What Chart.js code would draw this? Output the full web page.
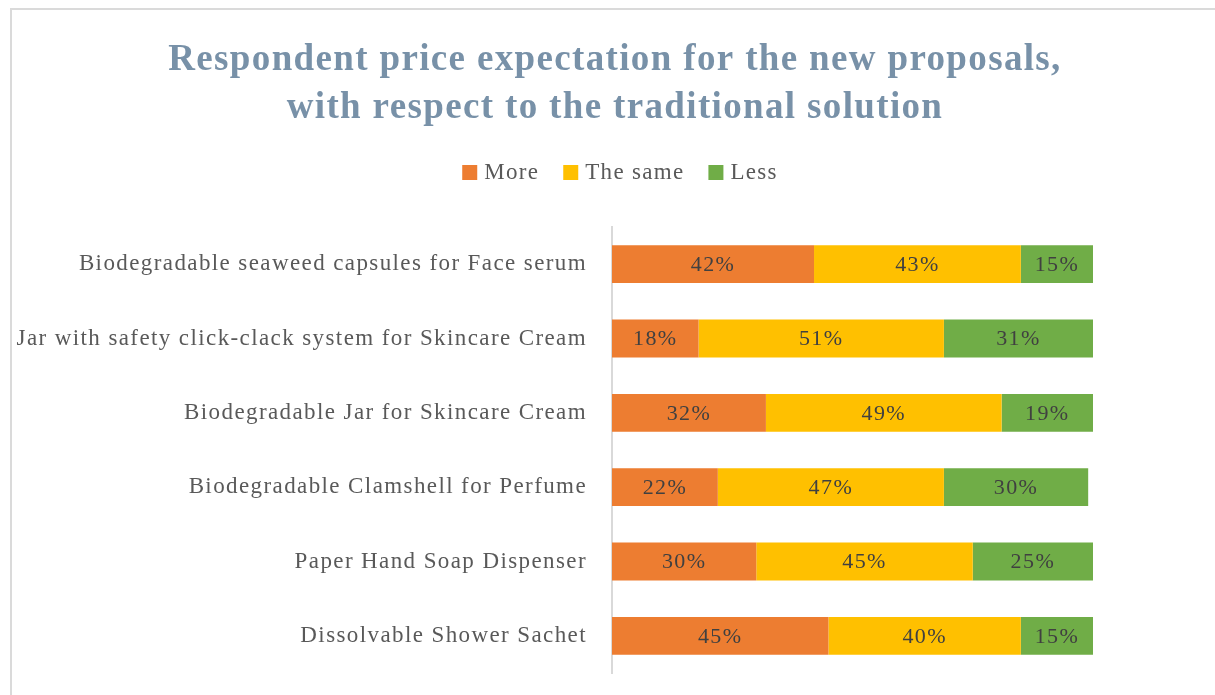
<!DOCTYPE html>
<html>
<head>
<meta charset="utf-8">
<script src="https://cdn.jsdelivr.net/npm/chart.js@4"></script>
<style>
  html, body { margin: 0; padding: 0; background: #fff; overflow: hidden; }
  #wrap { position: relative; width: 1215px; height: 695px; }
  #frame { position: absolute; left: 10px; top: 8px; width: 1400px; height: 900px; border: 2px solid #dadada; box-sizing: border-box; }
  canvas { position: absolute; left: 0; top: 0; }
</style>
</head>
<body>
<div id="wrap">
  <div id="frame"></div>
  <canvas id="priceChart" width="1215" height="695"></canvas>
</div>
<script>
const titleLines = ['Respondent price expectation for the new proposals,', 'with respect to the traditional solution'];
const products = [
  'Biodegradable seaweed capsules for Face serum',
  'Jar with safety click-clack system for Skincare Cream',
  'Biodegradable Jar for Skincare Cream',
  'Biodegradable Clamshell for Perfume',
  'Paper Hand Soap Dispenser',
  'Dissolvable Shower Sachet'
];
const more = [42, 18, 32, 22, 30, 45];
const same = [43, 51, 49, 47, 45, 40];
const less = [15, 31, 19, 30, 25, 15];

const serif = '"Liberation Serif", "DejaVu Serif", serif';

// writes the percentage in the middle of every bar segment
const segmentLabels = {
  id: 'segmentLabels',
  afterDatasetsDraw(chart) {
    const ctx = chart.ctx;
    ctx.save();
    ctx.font = '22px ' + serif;
    ctx.fillStyle = '#404040';
    ctx.textAlign = 'center';
    ctx.textBaseline = 'middle';
    chart.data.datasets.forEach((ds, i) => {
      chart.getDatasetMeta(i).data.forEach((bar, j) => {
        const p = bar.getCenterPoint();
        ctx.fillText(ds.data[j] + '%', p.x, p.y + 1);
      });
    });
    ctx.restore();
  }
};

// wider letter spacing for all text, plus the two-line title and the legend row
const header = {
  id: 'header',
  beforeDraw(chart) {
    chart.ctx.letterSpacing = '1.4px';
  },
  afterDraw(chart) {
    const ctx = chart.ctx;
    ctx.save();
    ctx.letterSpacing = '1.35px';
    ctx.font = 'bold 37px ' + serif;
    ctx.fillStyle = '#7891A8';
    ctx.textAlign = 'center';
    ctx.textBaseline = 'middle';
    titleLines.forEach((t, i) => ctx.fillText(t, 615, 60 + i * 48));

    ctx.letterSpacing = '1.3px';
    ctx.font = '23px ' + serif;
    ctx.textAlign = 'left';
    const box = 15, gap = 7, spacing = 24;
    const items = chart.data.datasets.map(ds => ({
      text: ds.label,
      color: ds.backgroundColor,
      w: ctx.measureText(ds.label).width
    }));
    const total = items.reduce((s, it) => s + box + gap + it.w, 0) + spacing * (items.length - 1);
    let x = 620 - total / 2;
    items.forEach(it => {
      ctx.fillStyle = it.color;
      ctx.fillRect(x, 165, box, box);
      ctx.fillStyle = '#595959';
      ctx.fillText(it.text, x + box + gap, 173);
      x += box + gap + it.w + spacing;
    });
    ctx.restore();
    ctx.letterSpacing = '0px';
  }
};

const ctx = document.getElementById('priceChart').getContext('2d');
const priceChart = new Chart(ctx, {
  type: 'bar',
  data: {
    labels: products,
    datasets: [
      { label: 'More', data: more, backgroundColor: '#ED7D31' },
      { label: 'The same', data: same, backgroundColor: '#FFC000' },
      { label: 'Less', data: less, backgroundColor: '#70AD47' }
    ]
  },
  options: {
    indexAxis: 'y',
    responsive: false,
    animation: false,
    barPercentage: 0.51,
    categoryPercentage: 1,
    layout: { padding: { left: 0, right: 122, top: 227, bottom: 22 } },
    plugins: {
      title: { display: false },
      legend: { display: false },
      tooltip: { enabled: false }
    },
    scales: {
      x: {
        stacked: true,
        min: 0,
        max: 100,
        display: false
      },
      y: {
        stacked: true,
        afterFit(scale) {
          scale.width = 612;
          scale.paddingTop = 0;
          scale.paddingBottom = 0;
        },
        grid: { display: false },
        border: { display: true, color: '#d9d9d9', width: 2 },
        ticks: {
          color: '#595959',
          font: { family: serif, size: 23 },
          padding: 17
        }
      }
    }
  },
  plugins: [segmentLabels, header]
});
</script>
</body>
</html>
